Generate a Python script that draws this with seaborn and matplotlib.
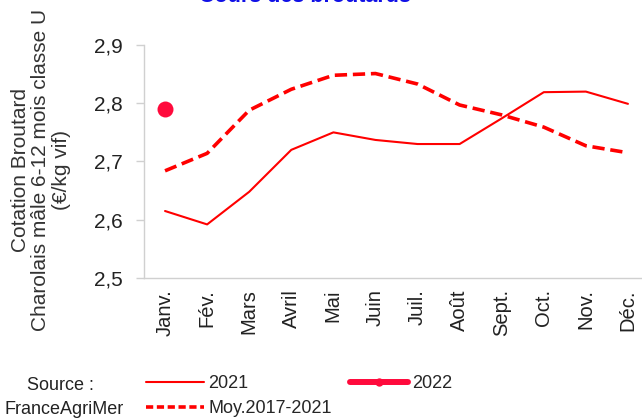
import numpy as np
import pandas as pd
import matplotlib
matplotlib.use("Agg")
import matplotlib.pyplot as plt
from matplotlib.lines import Line2D
from matplotlib.ticker import FuncFormatter, FixedLocator
import seaborn as sns

# Values
months = ["Janv.", "Fév.", "Mars", "Avril", "Mai", "Juin",
          "Juil.", "Août", "Sept.", "Oct.", "Nov.", "Déc."]
prix_2021 = [2.615, 2.592, 2.648, 2.720, 2.750, 2.737,
             2.730, 2.730, 2.774, 2.819, 2.820, 2.799]
prix_moy = [2.684, 2.714, 2.788, 2.824, 2.848, 2.851,
            2.833, 2.797, 2.780, 2.759, 2.727, 2.715]
prix_2022 = [2.790]

sns.set_theme(style="white")
plt.rcParams["font.family"] = ["Liberation Sans", "DejaVu Sans"]

df21 = pd.DataFrame({"mois": range(len(prix_2021)), "prix": prix_2021})
dfmoy = pd.DataFrame({"mois": range(len(prix_moy)), "prix": prix_moy})
df22 = pd.DataFrame({"mois": range(len(prix_2022)), "prix": prix_2022})

fig = plt.figure(figsize=(6.42, 4.18), dpi=100)
ax = fig.add_axes([144 / 642, 1 - 278 / 418, 505 / 642, 233 / 418])

red = "#ff0000"
red22 = "#ff0a3c"
sns.lineplot(data=df21, x="mois", y="prix", ax=ax, color=red, linewidth=1.5)
sns.lineplot(data=dfmoy, x="mois", y="prix", ax=ax, color=red, linewidth=2.6)
ax.lines[-1].set_dashes([3.4, 1.6])
sns.lineplot(data=df22, x="mois", y="prix", ax=ax, color=red22, linewidth=4.3,
             marker="o", markersize=11.5, markeredgewidth=0)

ax.set_xlim(-0.5, 11.5)
ax.set_ylim(2.5, 2.9)
ax.set_yticks([2.5, 2.6, 2.7, 2.8, 2.9])
ax.yaxis.set_major_formatter(FuncFormatter(lambda v, p: f"{v:.1f}".replace(".", ",")))
ax.set_xticks(range(12))
ax.set_xticklabels(months, rotation=90)
ax.xaxis.set_minor_locator(FixedLocator(np.arange(-0.5, 12, 1)))
ax.tick_params(axis="x", which="major", length=0, pad=8, labelsize=14.5, colors="#222222")
ax.tick_params(axis="x", which="minor", length=7, width=1, color="#d0d0d0", direction="out")
ax.tick_params(axis="y", length=6, width=1, color="#d0d0d0", direction="out",
               labelsize=15, labelcolor="#222222", pad=9, left=True)
ax.set_xlabel("")
ax.set_ylabel("")
for s in ["top", "right"]:
    ax.spines[s].set_visible(False)
for s in ["left", "bottom"]:
    ax.spines[s].set_color("#d0d0d0")
    ax.spines[s].set_linewidth(1)

fig.text(41 / 642, 1 - 170 / 418,
         "Cotation Broutard\nCharolais mâle 6-12 mois classe U\n(€/kg vif)",
         rotation=90, ha="center", va="center", multialignment="center",
         fontsize=15, color="#333333", linespacing=1.12)

fig.text(305 / 642, 1 - 2 / 418, "Cours des broutards", ha="center", va="baseline",
         fontsize=15.5, fontweight="bold", color="#1010e6")

fig.text(60 / 642, 1 - 386 / 418, "Source :", ha="center", va="center",
         fontsize=13, color="#222222")
fig.text(5 / 642, 1 - 409 / 418, "FranceAgriMer", ha="left", va="center",
         fontsize=13, color="#222222")

handles = [
    Line2D([], [], color=red, linewidth=1.5),
    Line2D([], [], color=red, linewidth=2.6, dashes=[2.0, 1.0]),
    Line2D([], [], color=red22, linewidth=4.3, marker="o", markersize=6,
           markeredgewidth=0),
]
labels = ["2021", "Moy.2017-2021", "2022"]
fig.legend(handles, labels, ncol=2, loc="upper left",
           bbox_to_anchor=(146 / 642, 1 - 375 / 418), frameon=False,
           fontsize=13, handlelength=3.2, handletextpad=0.25,
           columnspacing=1.0, labelspacing=0.45, borderaxespad=0, borderpad=0)

fig.savefig("out.png", dpi=100)
